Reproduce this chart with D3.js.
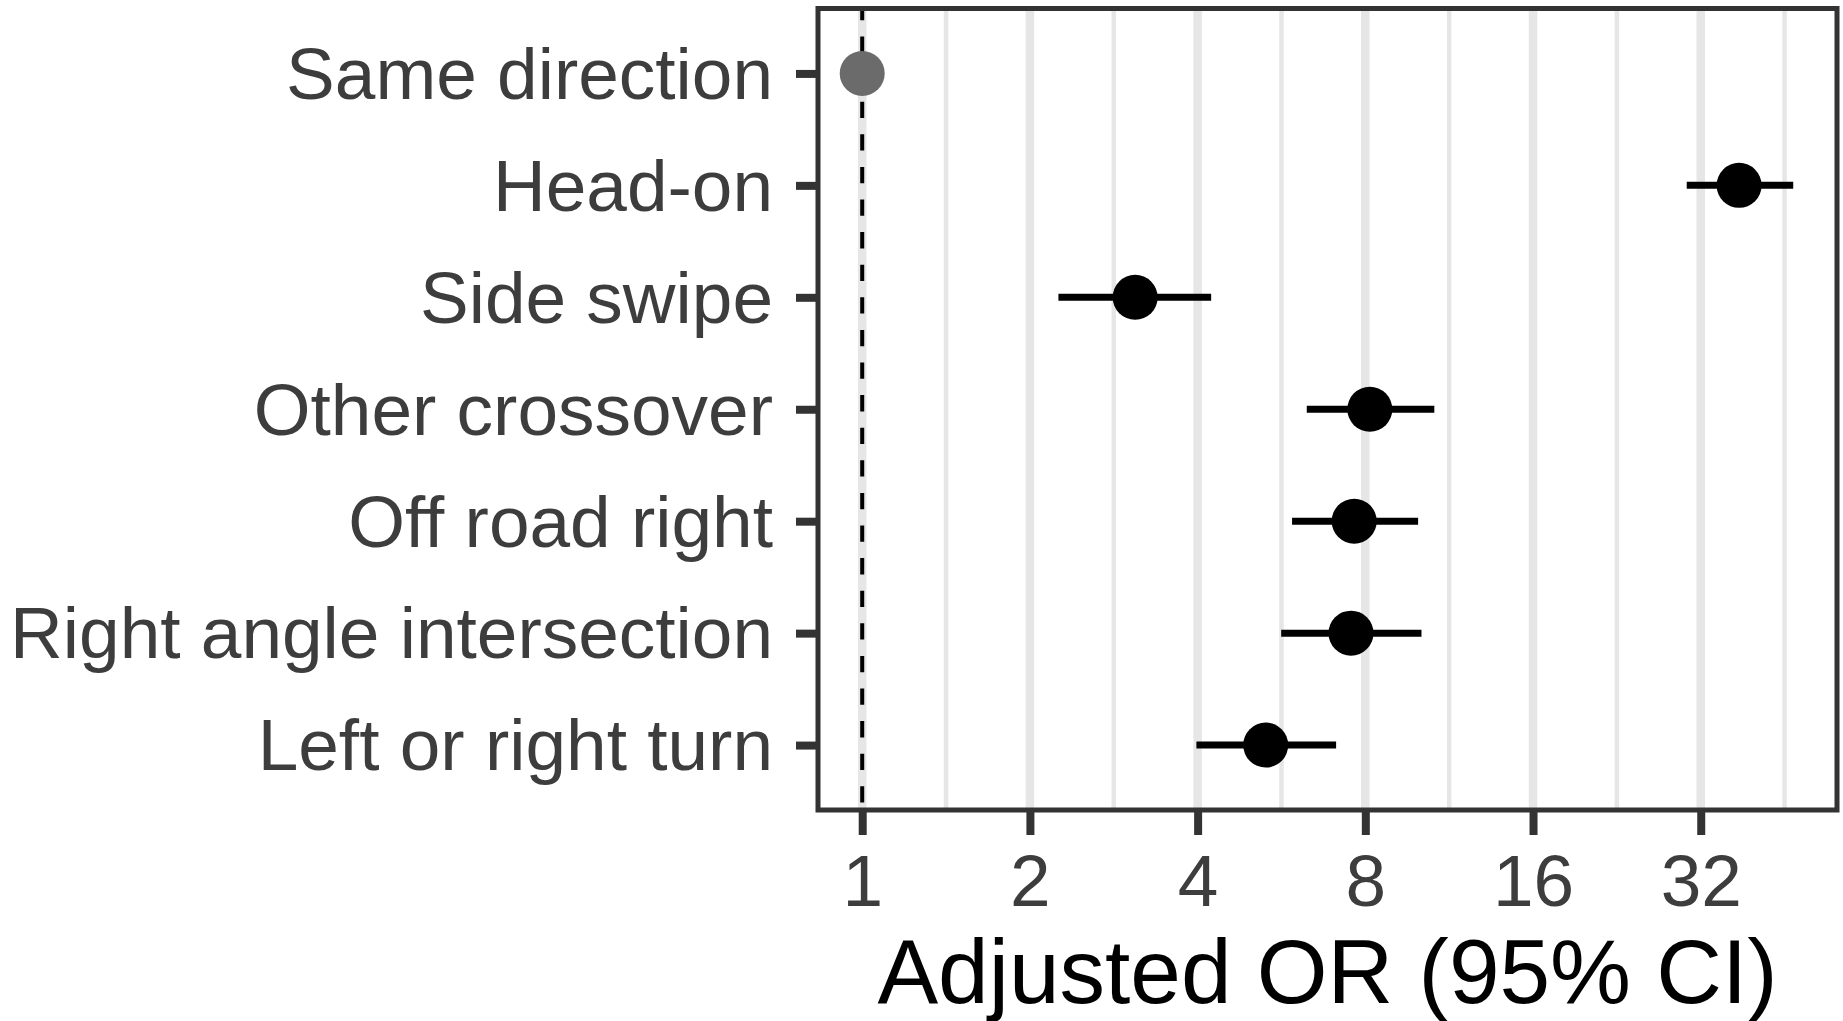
<!DOCTYPE html>
<html>
<head>
<meta charset="utf-8">
<script src="https://cdn.jsdelivr.net/npm/d3@7"></script>
<style>
  html, body { margin: 0; padding: 0; background: #fff; }
  svg { display: block; }
  text { font-family: "Liberation Sans", Arial, Helvetica, sans-serif; }
</style>
</head>
<body>
<svg id="chart" width="1843" height="1021"></svg>
<script>
// Collision types, adjusted odds ratios and 95% confidence limits
const categories = [
  "Same direction",
  "Head-on",
  "Side swipe",
  "Other crossover",
  "Off road right",
  "Right angle intersection",
  "Left or right turn"
];
const oddsRatio = [1, 37.5, 3.09, 8.15, 7.64, 7.54, 5.30];
const ciLower   = [null, 30.2, 2.25, 6.28, 5.91, 5.65, 3.98];
const ciUpper   = [null, 46.9, 4.23, 10.64, 9.95, 10.09, 7.09];
const xTicks = [1, 2, 4, 8, 16, 32];
const xMinorTicks = [Math.SQRT2, 2 * Math.SQRT2, 4 * Math.SQRT2, 8 * Math.SQRT2, 16 * Math.SQRT2, 32 * Math.SQRT2];
const xDomain = [0.833, 56.2];
const referenceValue = 1;
const xTitle = "Adjusted OR (95% CI)";

const rows = categories.map((c, i) => ({
  cat: c, or: oddsRatio[i], lo: ciLower[i], hi: ciUpper[i], ref: i === 0
}));

// Panel geometry
const panel = { left: 818, right: 1837, top: 8.5, bottom: 810 };

const svg = d3.select("#chart");

const x = d3.scaleLog().base(2).domain(xDomain).range([panel.left, panel.right]);
const y = d3.scalePoint().domain(categories).range([panel.top, panel.bottom]).padding(0.58);

svg.append("rect").attr("width", 1843).attr("height", 1021).attr("fill", "#fff");

// Vertical grid lines (major at powers of two, minor in between)
const grid = svg.append("g");
grid.selectAll("line.minor").data(xMinorTicks).join("line")
  .attr("class", "minor")
  .attr("x1", d => x(d)).attr("x2", d => x(d))
  .attr("y1", panel.top).attr("y2", panel.bottom)
  .attr("stroke", "#e6e6e6").attr("stroke-width", 4.5);
grid.selectAll("line.major").data(xTicks).join("line")
  .attr("class", "major")
  .attr("x1", d => x(d)).attr("x2", d => x(d))
  .attr("y1", panel.top).attr("y2", panel.bottom)
  .attr("stroke", "#e6e6e6").attr("stroke-width", 8.5);

// Reference line at OR = 1
svg.append("line")
  .attr("x1", x(referenceValue)).attr("x2", x(referenceValue))
  .attr("y1", panel.top).attr("y2", panel.bottom)
  .attr("stroke", "#000").attr("stroke-width", 4)
  .attr("stroke-dasharray", "16.3 16.3")
  .attr("stroke-dashoffset", 4.6);

// Confidence intervals
svg.append("g").selectAll("line").data(rows.filter(d => d.lo != null)).join("line")
  .attr("x1", d => x(d.lo)).attr("x2", d => x(d.hi))
  .attr("y1", d => y(d.cat)).attr("y2", d => y(d.cat))
  .attr("stroke", "#000").attr("stroke-width", 7);

// Point estimates
svg.append("g").selectAll("circle").data(rows).join("circle")
  .attr("cx", d => x(d.or)).attr("cy", d => y(d.cat))
  .attr("r", 22.5)
  .attr("fill", d => d.ref ? "#6b6b6b" : "#000");

// Panel border
svg.append("rect")
  .attr("x", panel.left).attr("y", panel.top)
  .attr("width", panel.right - panel.left).attr("height", panel.bottom - panel.top)
  .attr("fill", "none").attr("stroke", "#333").attr("stroke-width", 5);

// Axes
const yAxis = svg.append("g")
  .attr("transform", `translate(${panel.left},0)`)
  .call(d3.axisLeft(y).tickSize(22).tickPadding(23));
const xAxis = svg.append("g")
  .attr("transform", `translate(0,${panel.bottom})`)
  .call(d3.axisBottom(x).tickValues(xTicks).tickFormat(d3.format("d")).tickSize(25).tickPadding(19));

[yAxis, xAxis].forEach(ax => {
  ax.select(".domain").remove();
  ax.selectAll(".tick line").attr("stroke", "#333").attr("stroke-width", 8);
  ax.selectAll(".tick text")
    .attr("fill", "#3d3d3d")
    .style("font-size", "73px")
    .style("font-family", "'Liberation Sans', Arial, Helvetica, sans-serif");
});
yAxis.selectAll(".tick text").attr("dy", "0.34em");

// Axis title
svg.append("text")
  .attr("x", (panel.left + panel.right) / 2)
  .attr("y", 1003)
  .attr("text-anchor", "middle")
  .attr("fill", "#000")
  .style("font-size", "91px")
  .text(xTitle);
</script>
</body>
</html>
